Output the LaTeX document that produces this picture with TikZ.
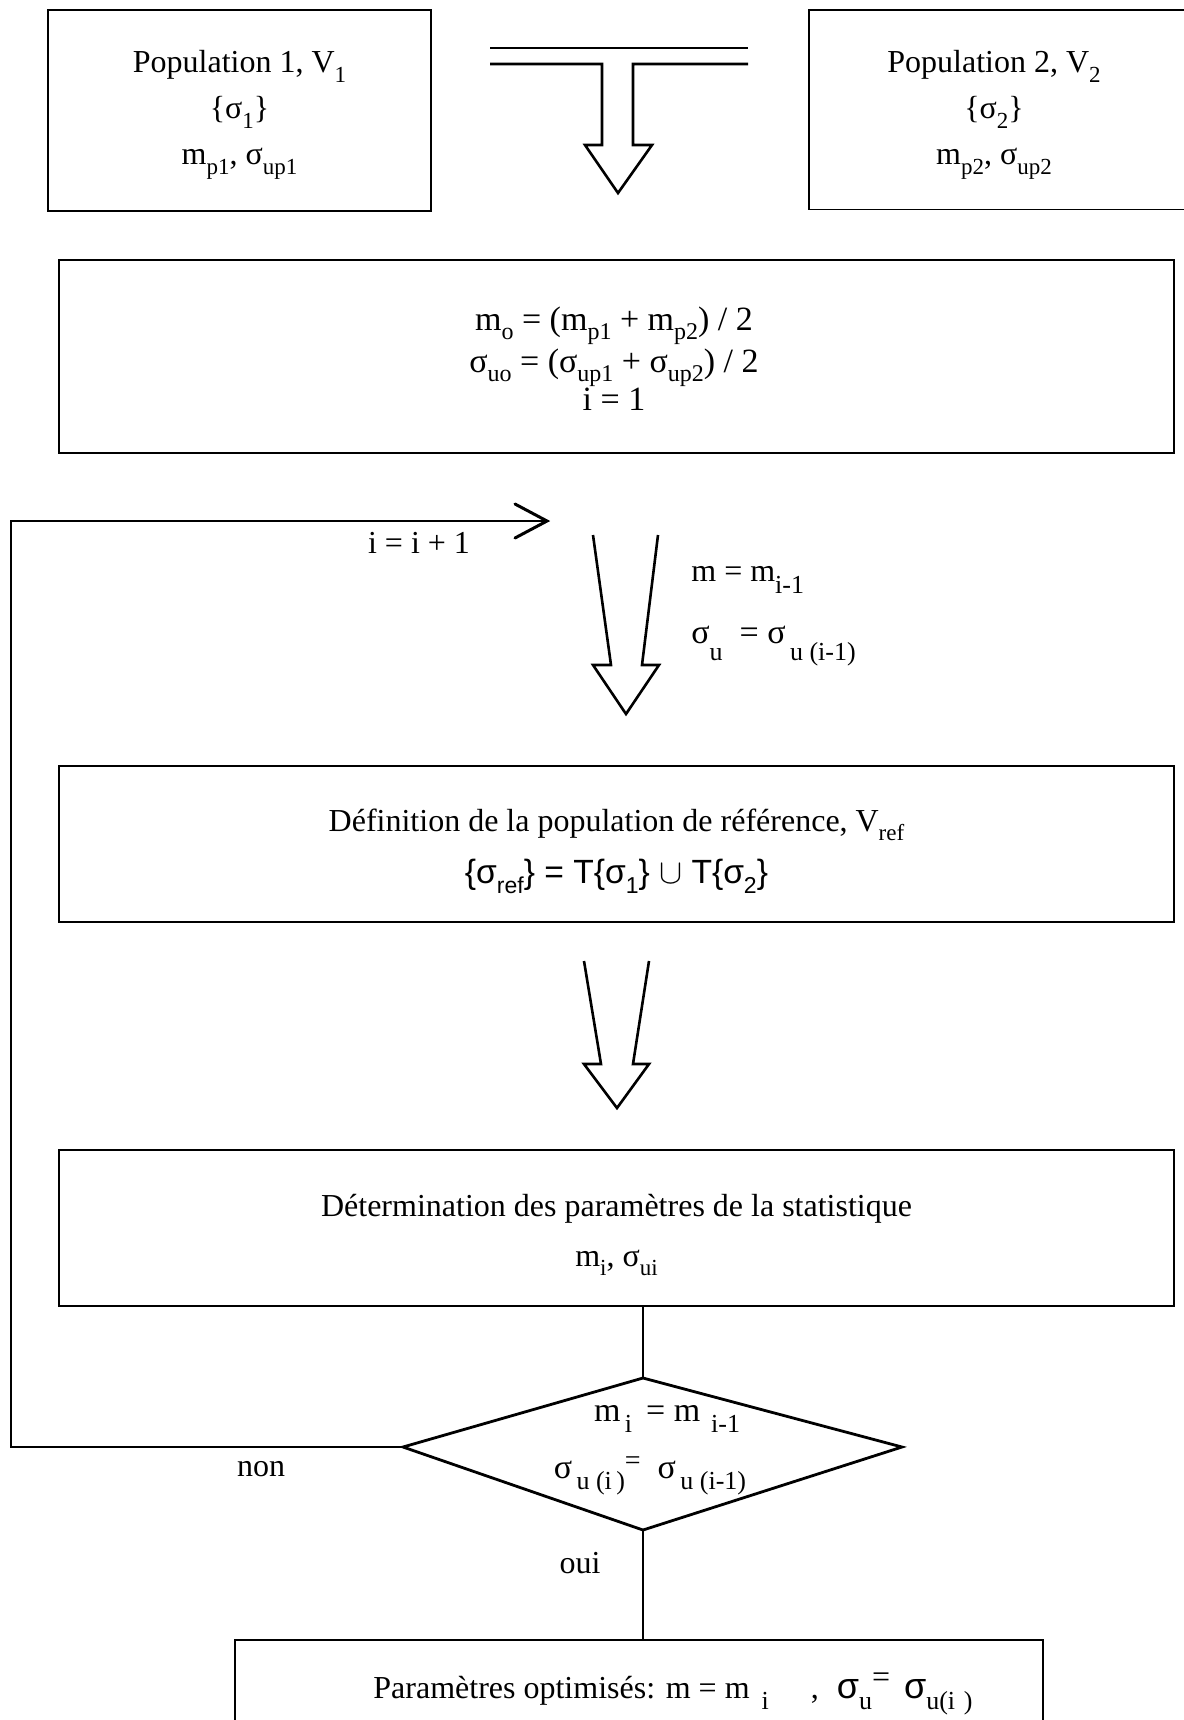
\documentclass[tikz,border=0pt]{standalone}
\usepackage{fontspec}
\setmainfont{Liberation Serif}
\newfontfamily\sansf{Liberation Sans}
\newcommand\dn[1]{\raisebox{-0.3em}{\fontsize{11.5}{12}\selectfont #1}}
\newcommand\dnc[1]{\raisebox{-0.25em}{\fontsize{12}{12}\selectfont #1}}
\newcommand\dnb[1]{\raisebox{-0.35em}{\fontsize{13}{13}\selectfont #1}}
\newcommand\dnn[1]{\raisebox{-0.5em}{\fontsize{13}{13}\selectfont #1}}
\begin{document}
\begin{tikzpicture}[x=0.5pt,y=-0.5pt,
  box/.style={draw, line width=0.9pt, inner sep=0pt},
  btxt/.style={inner sep=0pt, align=center, font=\fontsize{16}{23}\selectfont},
  txt/.style={inner sep=0pt, align=center, font=\fontsize{16}{20}\selectfont},
  fat/.style={line width=1.3pt, line join=miter},
  conn/.style={line width=0.8pt},
  diam/.style={line width=1.4pt, line join=miter}]
\useasboundingbox (0,0) rectangle (1184,1720);

% top boxes
\node[box, minimum width=191.5pt, minimum height=100.5pt] (p1) at (239.5,110.5) {};
\node[btxt] (p1t) at (239.5,115) {Population 1, V\dn{1}\\ \{σ\dn{1}\}\\ m\dn{p1}, σ\dn{up1}};
\node[inner sep=0pt, minimum width=189pt, minimum height=99.5pt] (p2) at (998,109.5) {};
\draw[line width=0.9pt] ([xshift=4pt]p2.north east) -- (p2.north west) -- (p2.south west) -- ([xshift=4pt]p2.south east);
\node[btxt] (p2t) at (994,115) {Population 2, V\dn{2}\\ \{σ\dn{2}\}\\ m\dn{p2}, σ\dn{up2}};

% merge arrow
\draw[fat] (490,48) -- (748,48);
\draw[fat] (490,64) -- (602,64) -- (602,145) -- (585,145) -- (618,193) -- (652,145) -- (633,145) -- (633,64) -- (748,64);

% box 3
\node[box, minimum width=557.5pt, minimum height=96.5pt] (b3) at (616.5,356.5) {};
\node[btxt, font=\fontsize{17}{21}\selectfont] (b3t) at (614,359)
  {m\dnc{o} = (m\dnc{p1} + m\dnc{p2}) / 2\\ σ\dnc{uo} = (σ\dnc{up1} + σ\dnc{up2}) / 2\\[-2pt] i = 1};

% loop arrow
\coordinate (lt) at (547,521);
\coordinate (dT) at (643,1378);
\coordinate (dL) at (403,1447);
\coordinate (dR) at (902,1447);
\coordinate (dB) at (643,1530);
\coordinate (lc) at (11,1447);
\draw[conn] (dL) -- (lc) |- (lt);
\draw[line width=1.5pt, line cap=round] ([shift={(-32,-17)}]lt) -- (lt) -- ([shift={(-32,17)}]lt);
\node[txt] (inc) at (419,543) {i = i + 1};

% tapered arrow 1
\draw[fat] (593,535) -- (611,665) -- (593,665) -- (626,714) -- (659,665) -- (642,665) -- (658,535);
\node[txt, anchor=west] (lab1) at (691,580) {m = m\dnb{i-1}};
\node[txt, anchor=west, font=\fontsize{17}{20}\selectfont] (lab2) at (691,646) {σ\dnn{u}\ \ =\ σ\dnn{\,u (i-1)}};

% box 4
\node[box, minimum width=557.5pt, minimum height=78pt] (b4) at (616.5,844) {};
\node[btxt, font=\fontsize{16}{26}\selectfont] (b4t) at (616.5,851)
  {Définition de la population de référence, V\dn{ref}\\ {\sansf\fontsize{16.8}{20}\selectfont\{σ\dn{ref}\} = T\{σ\dn{1}\} $\cup$ T\{σ\dn{2}\}}};

% tapered arrow 2
\draw[fat] (584,961) -- (601,1064) -- (584,1064) -- (617,1108) -- (649,1064) -- (633,1064) -- (649,961);

% box 5
\node[box, minimum width=557.5pt, minimum height=78pt] (b5) at (616.5,1228) {};
\node[btxt, font=\fontsize{16}{25}\selectfont] (b5t) at (616.5,1235)
  {Détermination des paramètres de la statistique\\ m\dn{i}, σ\dn{ui}};

% decision
\draw[diam] (dT) -- (dR) -- (dB) -- (dL) -- cycle;
\draw[conn] (b5.south -| dT) -- (dT);
\node[txt, anchor=base, font=\fontsize{17}{20}\selectfont] (c1) at (667,1421) {m\dnb{\,i}\ \,=\ m\dnb{\ \,i-1}};
\node[txt, anchor=base, font=\fontsize{17}{20}\selectfont] (c2) at (650,1478) {σ\dnb{\,u (i\,)}\raisebox{.25em}{\fontsize{14}{14}\selectfont =}\ \ σ\dnb{\,u (i-1)}};
\node[txt] (non) at (261,1469) {non};

% final box
\node[box, minimum width=404pt, minimum height=60pt] (b6) at (639,1700) {};
\draw[conn] (dB) -- (dB |- b6.north);
\node[txt] (oui) at (580,1563) {oui};
\node[txt, anchor=west] (b6t) at (373,1694) {Paramètres optimisés: m = m\hspace{6pt}\dnb{i}\hspace{21pt},\hspace{9pt}{\sansf\fontsize{18}{20}\selectfont σ}\dnb{u}\raisebox{.35em}{=}\hspace{7pt}{\sansf\fontsize{18}{20}\selectfont σ}\dnb{u(i\,\,)}};
\end{tikzpicture}
\end{document}
